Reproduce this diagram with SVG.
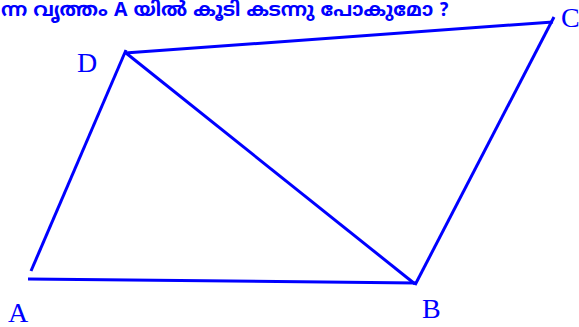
<svg xmlns="http://www.w3.org/2000/svg" width="579" height="327" viewBox="0 0 579 327">
<style>
.edge{stroke:#0000ff;stroke-width:3;fill:none;stroke-linecap:butt}
.lbl{font-family:"Liberation Serif","Times New Roman",serif;font-size:28px;fill:#0000ff}
.q{font-family:"Noto Sans Malayalam","Noto Sans","Liberation Sans",sans-serif;font-size:19.5px;font-weight:bold;fill:#0000ff}
</style>
<rect width="579" height="327" fill="#ffffff"/>
<text class="q" x="1" y="16">ന്ന വൃത്തം A യിൽ കൂടി കടന്നു പോകുമോ ?</text>
<g id="connectors">
<line class="edge" x1="126" y1="50" x2="31" y2="271"/>
<line class="edge" x1="125" y1="53" x2="553" y2="22"/>
<line class="edge" x1="126" y1="53" x2="415" y2="284"/>
<line class="edge" x1="28" y1="279" x2="416" y2="283"/>
<line class="edge" x1="415" y1="285" x2="554" y2="17"/>
</g>
<g id="node-A"><text class="lbl" x="8" y="322">A</text></g>
<g id="node-B"><text class="lbl" x="422" y="318">B</text></g>
<g id="node-C"><text class="lbl" x="561" y="27">C</text></g>
<g id="node-D"><text class="lbl" x="77" y="72">D</text></g>
</svg>
